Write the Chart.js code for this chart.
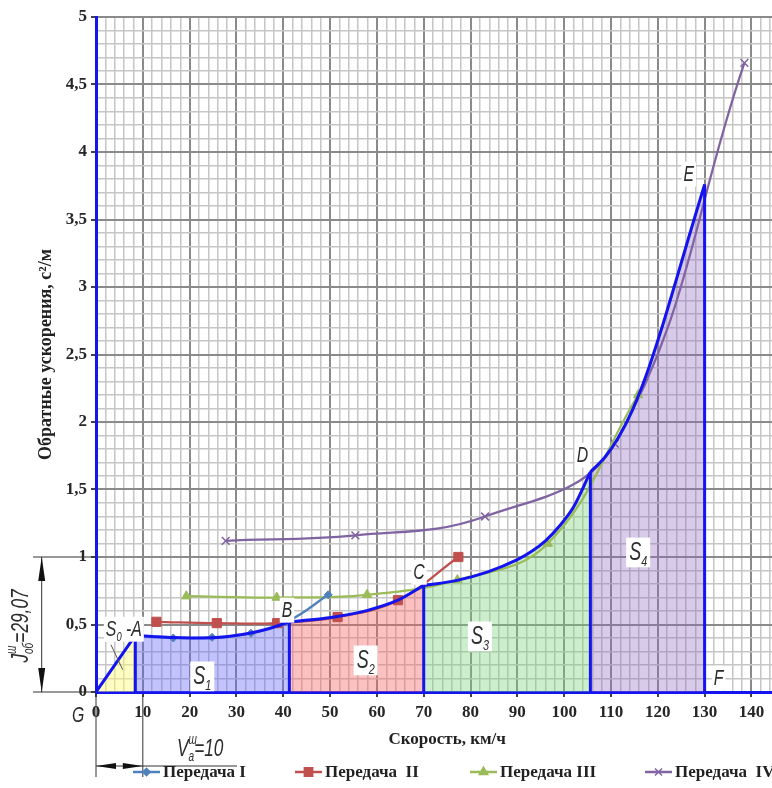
<!DOCTYPE html>
<html lang="ru">
<head>
<meta charset="utf-8">
<title>Обратные ускорения</title>
<script src="https://cdn.jsdelivr.net/npm/chart.js@4.4.1/dist/chart.umd.min.js"></script>
<style>
  html, body { margin: 0; padding: 0; background: #fff; overflow: hidden; }
  #wrap { width: 772px; height: 788px; overflow: hidden; }
</style>
</head>
<body>
<div id="wrap"><canvas id="chart" width="816" height="788"></canvas></div>
<script>
// обратные ускорения на передачах, с²/м
const gear1Speed = [8.3, 16.5, 24.8, 33.1, 41.3, 49.6];
const gear1Inv   = [0.42, 0.40, 0.405, 0.435, 0.53, 0.72];
const gear2Speed = [12.9, 25.8, 38.7, 51.6, 64.5, 77.4];
const gear2Inv   = [0.52, 0.51, 0.51, 0.555, 0.68, 1.0];
const gear3Speed = [19.3, 38.6, 57.9, 77.2, 96.5, 115.8];
const gear3Inv   = [0.71, 0.70, 0.72, 0.83, 1.10, 2.20];
const gear4Speed = [27.7, 55.4, 83.1, 110.8, 138.5];
const gear4Inv   = [1.12, 1.16, 1.30, 1.84, 4.66];

// огибающая по участкам разгона S0..S4
const s0Speed = [0, 8.4];
const s0Inv   = [0, 0.42];
const s1Speed = [8.4, 12, 16.5, 20.5, 24.8, 29, 33.1, 37.2, 41.3];
const s1Inv   = [0.42, 0.412, 0.403, 0.40, 0.402, 0.415, 0.437, 0.472, 0.52];
const s2Speed = [41.3, 46, 51.6, 58, 64.5, 70];
const s2Inv   = [0.52, 0.535, 0.56, 0.605, 0.68, 0.79];
const s3Speed = [70, 76.9, 83.7, 90, 93, 96, 99, 102, 105.6];
const s3Inv   = [0.79, 0.825, 0.89, 0.98, 1.04, 1.12, 1.23, 1.37, 1.63];
const s4Speed = [105.6, 108.6, 111.6, 114.6, 117.6, 120.6, 123.6, 126.6, 130];
const s4Inv   = [1.63, 1.735, 1.885, 2.09, 2.353, 2.668, 3.013, 3.367, 3.76];

const xTickLabels = ['0', '10', '20', '30', '40', '50', '60', '70', '80', '90', '100', '110', '120', '130', '140', '150'];
const yTickLabels = ['0', '0,5', '1', '1,5', '2', '2,5', '3', '3,5', '4', '4,5', '5'];

const ENV = '#1414ee';
const MAJOR = '#8a8a8a';
const MINOR = '#c6c6c6';
const TXT = '#262626';
const SERIF = '"Liberation Serif", "Times New Roman", serif';

const pts = (xs, ys) => xs.map((x, i) => ({ x, y: ys[i] }));
const isMajorX = v => Math.abs(v % 10) < 1e-6;
const isMajorY = v => Math.abs(v * 2 - Math.round(v * 2)) < 1e-6;

const gears = [
  { label: 'Передача I',   xs: gear1Speed, ys: gear1Inv, color: '#4f81bd', style: 'rectRot',  r: 4 },
  { label: 'Передача  II', xs: gear2Speed, ys: gear2Inv, color: '#c0504d', style: 'rect',     r: 6.5 },
  { label: 'Передача III', xs: gear3Speed, ys: gear3Inv, color: '#9bbb59', style: 'triangle', r: 5.5 },
  { label: 'Передача  IV', xs: gear4Speed, ys: gear4Inv, color: '#8064a2', style: 'crossRot', r: 5.5 }
];
const legendX = [133, 295, 470, 645];

const regions = [
  [s0Speed, s0Inv, 'rgba(255,250,120,0.45)'],
  [s1Speed, s1Inv, 'rgba(95,95,250,0.38)'],
  [s2Speed, s2Inv, 'rgba(245,100,100,0.40)'],
  [s3Speed, s3Inv, 'rgba(120,210,120,0.38)'],
  [s4Speed, s4Inv, 'rgba(140,100,190,0.34)']
];

const datasets = [];

// участки огибающей с заливкой до оси
regions.forEach(([xs, ys, fillColor]) => {
  datasets.push({
    data: pts(xs, ys),
    showLine: true,
    borderColor: ENV,
    borderWidth: 3,
    backgroundColor: fillColor,
    fill: 'origin',
    pointRadius: 0,
    cubicInterpolationMode: 'monotone',
    order: 1
  });
});

// вертикальные границы участков (A, B, C, D, E-F)
const edges = [
  [s1Speed[0], s1Inv[0]],
  [s2Speed[0], s2Inv[0]],
  [s3Speed[0], s3Inv[0]],
  [s4Speed[0], s4Inv[0]],
  [s4Speed[s4Speed.length - 1], s4Inv[s4Inv.length - 1]]
];
edges.forEach(([ex, ey]) => {
  datasets.push({
    data: [{ x: ex, y: 0 }, { x: ex, y: ey }],
    showLine: true,
    borderColor: ENV,
    borderWidth: 3,
    pointRadius: 0,
    fill: false,
    order: 1
  });
});

gears.forEach(g => {
  datasets.push({
    label: g.label,
    data: pts(g.xs, g.ys),
    showLine: true,
    borderColor: g.color,
    backgroundColor: g.color,
    borderWidth: 2.25,
    tension: 0.4,
    pointStyle: g.style,
    pointRadius: g.r,
    pointBorderColor: g.color,
    pointBackgroundColor: g.color,
    pointBorderWidth: g.style === 'crossRot' ? 1.5 : 1,
    fill: false,
    order: 2
  });
});

// курсивные подписи чертёжным шрифтом
function gostRun(ctx, parts, x, y, draw) {
  ctx.save();
  ctx.translate(x, y);
  ctx.scale(0.72, 1);
  let cx = 0;
  parts.forEach(([t, size, dy = 0, adv = true]) => {
    ctx.font = 'italic ' + size + 'px "Liberation Sans", sans-serif';
    if (draw) ctx.fillText(t, cx, dy);
    if (adv) cx += ctx.measureText(t).width;
  });
  ctx.restore();
  return cx * 0.72;
}

function tag(ctx, parts, cx, cy, pad) {
  const w = gostRun(ctx, parts, 0, 0, false);
  const h = parts[0][1];
  ctx.fillStyle = '#fff';
  ctx.fillRect(cx - w / 2 - pad, cy - h * 0.42 - pad, w + 2 * pad, h * 0.95 + 2 * pad);
  ctx.fillStyle = '#2d2d2d';
  gostRun(ctx, parts, cx - w / 2, cy + h * 0.36, true);
}

function arrowHead(ctx, tipX, tipY, dx, dy, len, half) {
  const bx = tipX - dx * len, by = tipY - dy * len;
  ctx.beginPath();
  ctx.moveTo(tipX, tipY);
  ctx.lineTo(bx - dy * half, by + dx * half);
  ctx.lineTo(bx + dy * half, by - dx * half);
  ctx.closePath();
  ctx.fill();
}

const areaNames = [
  { n: '1', x: 22.7, y: 0.126 },
  { n: '2', x: 57.6, y: 0.244 },
  { n: '3', x: 82.0, y: 0.422 },
  { n: '4', x: 115.8, y: 1.044 }
];
const pointNames = [
  { t: 'B', x: 40.8, y: 0.615 },
  { t: 'C', x: 69.0, y: 0.896 },
  { t: 'D', x: 103.9, y: 1.763 },
  { t: 'E', x: 126.6, y: 3.844 },
  { t: 'F', x: 133.0, y: 0.111 },
  { t: 'G', x: -3.8, y: -0.163 }
];

const notes = {
  id: 'notes',
  afterDraw(chart) {
    const { ctx, scales: { x, y } } = chart;
    const px = v => x.getPixelForValue(v);
    const py = v => y.getPixelForValue(v);
    ctx.save();

    // выноска к S0
    ctx.strokeStyle = '#555';
    ctx.lineWidth = 1;
    ctx.beginPath();
    ctx.moveTo(px(3.2), py(0.35));
    ctx.lineTo(px(5.7), py(0.165));
    ctx.stroke();

    areaNames.forEach(a => tag(ctx, [['S', 25], [a.n, 15, 6]], px(a.x), py(a.y), 3));
    tag(ctx, [['S', 22], ['0', 13, 5], [' -A', 22]], px(5.95), py(0.474), 2);
    pointNames.forEach(p => tag(ctx, [[p.t, 22]], px(p.x), py(p.y), 2));

    ctx.strokeStyle = '#333';
    ctx.fillStyle = '#111';
    ctx.lineWidth = 1;

    // размер J по оси ординат
    const y0 = py(0), y1 = py(1), xl = x.left;
    ctx.beginPath();
    ctx.moveTo(33, y1); ctx.lineTo(xl, y1);
    ctx.moveTo(33, y0); ctx.lineTo(xl, y0);
    ctx.moveTo(41.7, y1); ctx.lineTo(41.7, y0);
    ctx.stroke();
    arrowHead(ctx, 41.7, y1, 0, -1, 24, 3.5);
    arrowHead(ctx, 41.7, y0, 0, 1, 24, 3.5);

    ctx.save();
    ctx.translate(20, (y0 + y1) / 2 + 1.5);
    ctx.rotate(-Math.PI / 2);
    const jParts = [['J', 24], ['ш', 14, -12, false], ['об', 14, 5], ['=29,07', 24]];
    const jw = gostRun(ctx, jParts, 0, 0, false);
    ctx.fillStyle = '#2d2d2d';
    gostRun(ctx, jParts, -jw / 2, 8, true);
    ctx.restore();

    // размер V по оси абсцисс
    const v0 = px(0), v10 = px(10);
    ctx.beginPath();
    ctx.moveTo(v0, y0 + 2); ctx.lineTo(v0, 777);
    ctx.moveTo(v10, y0 + 2); ctx.lineTo(v10, 777);
    ctx.moveTo(v0, 766); ctx.lineTo(237, 766);
    ctx.stroke();
    arrowHead(ctx, v0, 766, -1, 0, 20, 3);
    arrowHead(ctx, v10, 766, 1, 0, 20, 3);
    ctx.fillStyle = '#2d2d2d';
    gostRun(ctx, [['V', 24], ['ш', 14, -12, false], ['a', 14, 5], ['=10', 24]], 177, 756, true);

    ctx.restore();
  }
};

// легенда под графиком
const gearLegend = {
  id: 'gearLegend',
  afterDraw(chart) {
    const ctx = chart.ctx;
    const ly = 772;
    ctx.save();
    ctx.textBaseline = 'middle';
    gears.forEach((g, i) => {
      const lx = legendX[i];
      ctx.strokeStyle = g.color;
      ctx.fillStyle = g.color;
      ctx.lineWidth = 2.5;
      ctx.beginPath();
      ctx.moveTo(lx, ly);
      ctx.lineTo(lx + 27, ly);
      ctx.stroke();
      ctx.lineWidth = 1.5;
      Chart.helpers.drawPoint(ctx, { pointStyle: g.style, radius: g.r * 0.9, rotation: 0, borderWidth: 1.5 }, lx + 13.5, ly);
      ctx.fillStyle = '#222';
      ctx.font = 'bold 17px ' + SERIF;
      ctx.fillText(g.label, lx + 30, ly + 1);
    });
    ctx.restore();
  }
};

new Chart(document.getElementById('chart'), {
  type: 'scatter',
  data: { datasets },
  plugins: [notes, gearLegend],
  options: {
    responsive: false,
    devicePixelRatio: 1,
    animation: false,
    events: [],
    layout: { padding: { top: 17, left: 0, right: 14, bottom: 38 } },
    plugins: {
      legend: { display: false },
      tooltip: { enabled: false },
      filler: { drawTime: 'beforeDatasetsDraw' }
    },
    scales: {
      x: {
        type: 'linear',
        min: 0,
        max: 150,
        ticks: {
          stepSize: 2,
          autoSkip: false,
          maxRotation: 0,
          padding: 5,
          color: TXT,
          font: { family: SERIF, weight: 'bold', size: 17 },
          callback: v => isMajorX(v) ? xTickLabels[Math.round(v / 10)] : ''
        },
        grid: {
          color: c => c.tick && isMajorX(c.tick.value) ? MAJOR : MINOR,
          lineWidth: c => c.tick && isMajorX(c.tick.value) ? 2 : 1.5,
          tickColor: c => c.tick && isMajorX(c.tick.value) ? '#444' : 'rgba(0,0,0,0)',
          tickLength: 5
        },
        border: { color: ENV, width: 3 },
        title: {
          display: true,
          text: 'Скорость, км/ч',
          color: '#222',
          font: { family: SERIF, weight: 'bold', size: 17 },
          padding: { top: 2, bottom: 0 }
        },
        afterFit: s => { s.height = 58; }
      },
      y: {
        type: 'linear',
        min: 0,
        max: 5,
        ticks: {
          stepSize: 0.1,
          autoSkip: false,
          padding: 4,
          color: TXT,
          font: { family: SERIF, weight: 'bold', size: 17 },
          callback: v => isMajorY(v) ? yTickLabels[Math.round(v * 2)] : ''
        },
        grid: {
          color: c => c.tick && isMajorY(c.tick.value) ? MAJOR : MINOR,
          lineWidth: c => c.tick && isMajorY(c.tick.value) ? 2 : 1.5,
          tickColor: c => c.tick && isMajorY(c.tick.value) ? '#444' : 'rgba(0,0,0,0)',
          tickLength: 5
        },
        border: { color: ENV, width: 3 },
        title: {
          display: true,
          text: 'Обратные ускорения, с²/м',
          color: '#222',
          font: { family: SERIF, weight: 'bold', size: 18 },
          padding: { top: 36, bottom: 0 }
        },
        afterFit: s => { s.width = 96; }
      }
    }
  }
});
</script>
</body>
</html>
